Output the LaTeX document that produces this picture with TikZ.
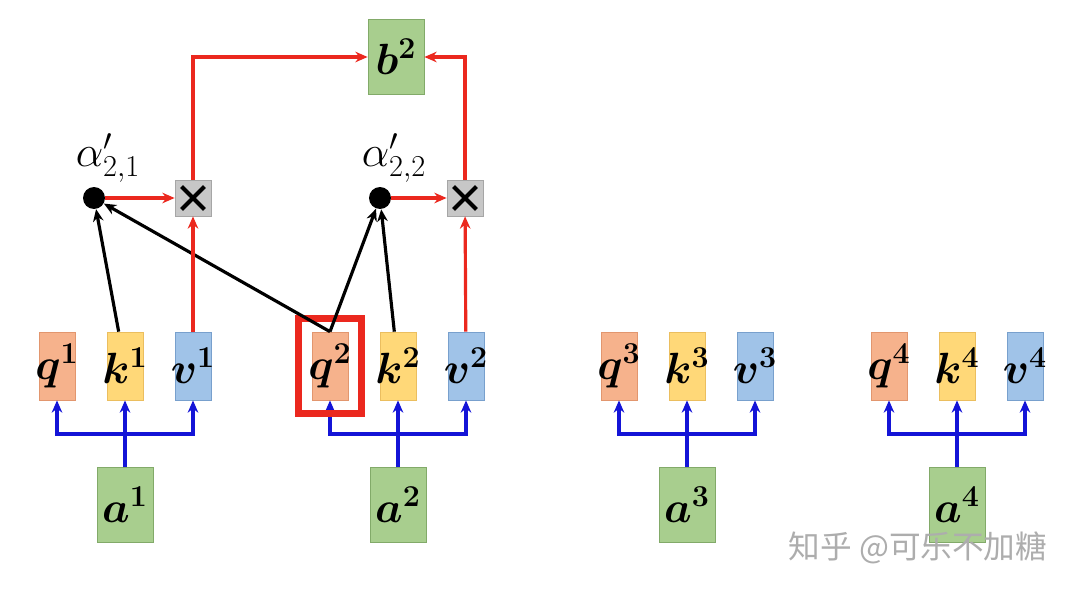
\documentclass[tikz,border=0pt]{standalone}
\usepackage{amsmath}
\usepackage{amssymb}
\usepackage{fontspec}
\newfontfamily\cjkfont{Noto Sans CJK SC}
\usepackage{tikz}
\usetikzlibrary{positioning,fit,arrows.meta}
\definecolor{qfill}{RGB}{246,178,140}
\definecolor{qline}{RGB}{226,150,110}
\definecolor{kfill}{RGB}{255,216,120}
\definecolor{kline}{RGB}{235,190,95}
\definecolor{vfill}{RGB}{160,195,232}
\definecolor{vline}{RGB}{120,160,205}
\definecolor{gfill}{RGB}{168,206,142}
\definecolor{gline}{RGB}{130,170,105}
\definecolor{pathred}{RGB}{235,40,30}
\definecolor{busblue}{RGB}{20,20,215}
\tikzset{ vecnode/.style={draw,minimum width=0.72cm,minimum height=1.36cm,inner sep=0pt,font=\fontsize{25}{30}\selectfont},
  qnode/.style={vecnode,fill=qfill,draw=qline},
  knode/.style={vecnode,fill=kfill,draw=kline},
  vnode/.style={vecnode,fill=vfill,draw=vline},
  anode/.style={vecnode,fill=gfill,draw=gline,minimum width=1.12cm,minimum height=1.5cm},
  score/.style={circle,fill=black,minimum size=0.44cm,inner sep=0pt},
  mul/.style={draw=black!35,fill=black!22,minimum size=0.72cm,inner sep=0pt,
    path picture={\draw[black,line width=2.4pt] ([shift={(-6.5pt,-6.5pt)}]path picture bounding box.center) -- ++(13pt,13pt)
      ([shift={(-6.5pt,6.5pt)}]path picture bounding box.center) -- ++(13pt,-13pt);}},
  lbl/.style={font=\fontsize{23}{28}\selectfont},
  bus/.style={busblue,line width=2pt},
  redline/.style={pathred,line width=1.8pt},
  blkline/.style={black,line width=1.8pt} }
\newcommand{\boxlab}[2]{\makebox[0pt]{$\boldsymbol{#1^{#2}}$}}

\begin{document}
\begin{tikzpicture}[x=0.02cm,y=-0.02cm,>={Stealth[length=7pt,width=6pt]}]
   \useasboundingbox (0,0) rectangle (1080,595);
   % q k v of each input, a below
   \foreach \i/\x in {1/125,2/398,3/687,4/957}{
     \node[qnode] (q\i) at ({\x-68},366) {\boxlab{q}{\i}};
     \node[knode] (k\i) at (\x,366) {\boxlab{k}{\i}};
     \node[vnode] (v\i) at ({\x+68},366) {\boxlab{v}{\i}};
     \node[anode] (a\i) at (\x,505) {\boxlab{a}{\i}};
     \coordinate (j\i) at (\x,434);
     \draw[bus] (a\i) -- (j\i);
     \draw[bus,->] (j\i) -| (q\i);
     \draw[bus,->] (j\i) -- (k\i);
     \draw[bus,->] (j\i) -| (v\i);
   }
   \node[draw=pathred,line width=4pt,fit=(q2),inner sep=0.27cm] (hl) {};
   \node[anode] (b2) at (396,57) {\boxlab{b}{2}};
   \node[score] (d1) at (94,198) {};
   \node[score] (d2) at (380,198) {};
   \node[lbl] (l1) at (108,158) {$\alpha'_{2,1}$};
   \node[lbl] (l2) at (394,158) {$\alpha'_{2,2}$};
   \node[mul] (x1) at (193,198) {};
   \node[mul] (x2) at (465,198) {};
   \draw[blkline,->] (k1) -- (d1);
   \draw[blkline,->] (q2.north) -- (d1);
   \draw[blkline,->] (q2.north) -- (d2);
   \draw[blkline,->] (k2) -- (d2);
   \draw[redline,->] (v1) -- (x1);
   \draw[redline,->] (v2) -- (x2);
   \draw[redline,->] (d1) -- (x1);
   \draw[redline,->] (d2) -- (x2);
   \draw[redline,->] (x1) |- (b2);
   \draw[redline,->] (x2) |- (b2);
   \node[text=black!32,font=\cjkfont\fontsize{18}{22}\selectfont] (wm) at (918,548) {知乎 @可乐不加糖};
\end{tikzpicture}
\end{document}
